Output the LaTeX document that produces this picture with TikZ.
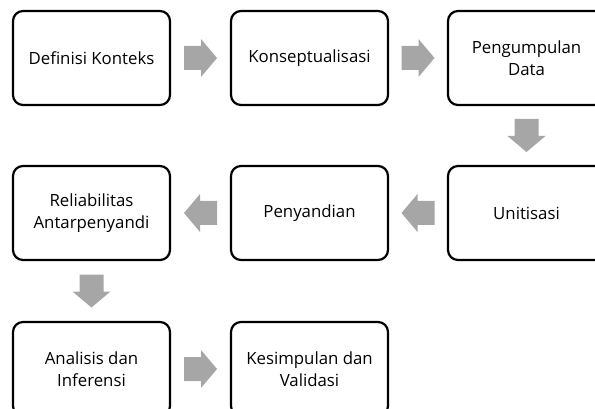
\documentclass[tikz,border=0pt]{standalone}
\usepackage{fontspec}
\setmainfont{Open Sans}
\usetikzlibrary{calc}
\definecolor{arrowgray}{HTML}{A6A6A6}
\tikzset{
  stage/.style={draw=black, line width=2.2pt, rounded corners=10pt, minimum width=157pt, minimum height=94pt, align=center, inner sep=0pt, font=\fontsize{16.8}{22}\selectfont},
  blockarrow/.pic={\fill[arrowgray] (-16.5,-12) -- (0.5,-12) -- (0.5,-19) -- (16.5,0) -- (0.5,19) -- (0.5,12) -- (-16.5,12) -- cycle;}
}
\begin{document}
\begin{tikzpicture}[x=1pt,y=-1pt]
\useasboundingbox (0,0) rectangle (595,409);
\clip (0,0) rectangle (595,409);
\node[stage] (a) at (91.5,58) {Definisi Konteks};
\node[stage] (b) at (309.5,58) {Konseptualisasi};
\node[stage] (c) at (526.5,58) {Pengumpulan\\Data};
\node[stage] (d) at (526.5,213) {Unitisasi};
\node[stage] (e) at (309.5,213) {Penyandian};
\node[stage] (f) at (91.5,213) {Reliabilitas\\Antarpenyandi};
\node[stage] (g) at (91.5,369) {Analisis dan\\Inferensi};
\node[stage] (h) at (309.5,369) {Kesimpulan dan\\Validasi};
\coordinate (ab) at ($(a.east)!0.5!(b.west)$);
\coordinate (bc) at ($(b.east)!0.5!(c.west)$);
\coordinate (cd) at ($(c.south)!0.5!(d.north)$);
\coordinate (de) at ($(d.west)!0.5!(e.east)$);
\coordinate (ef) at ($(e.west)!0.5!(f.east)$);
\coordinate (fg) at ($(f.south)!0.5!(g.north)$);
\coordinate (gh) at ($(g.east)!0.5!(h.west)$);
\pic at (ab) {blockarrow};
\pic at (bc) {blockarrow};
\pic[rotate=-90] at (cd) {blockarrow};
\pic[rotate=180] at (de) {blockarrow};
\pic[rotate=180] at (ef) {blockarrow};
\pic[rotate=-90] at (fg) {blockarrow};
\pic at (gh) {blockarrow};
\end{tikzpicture}
\end{document}
